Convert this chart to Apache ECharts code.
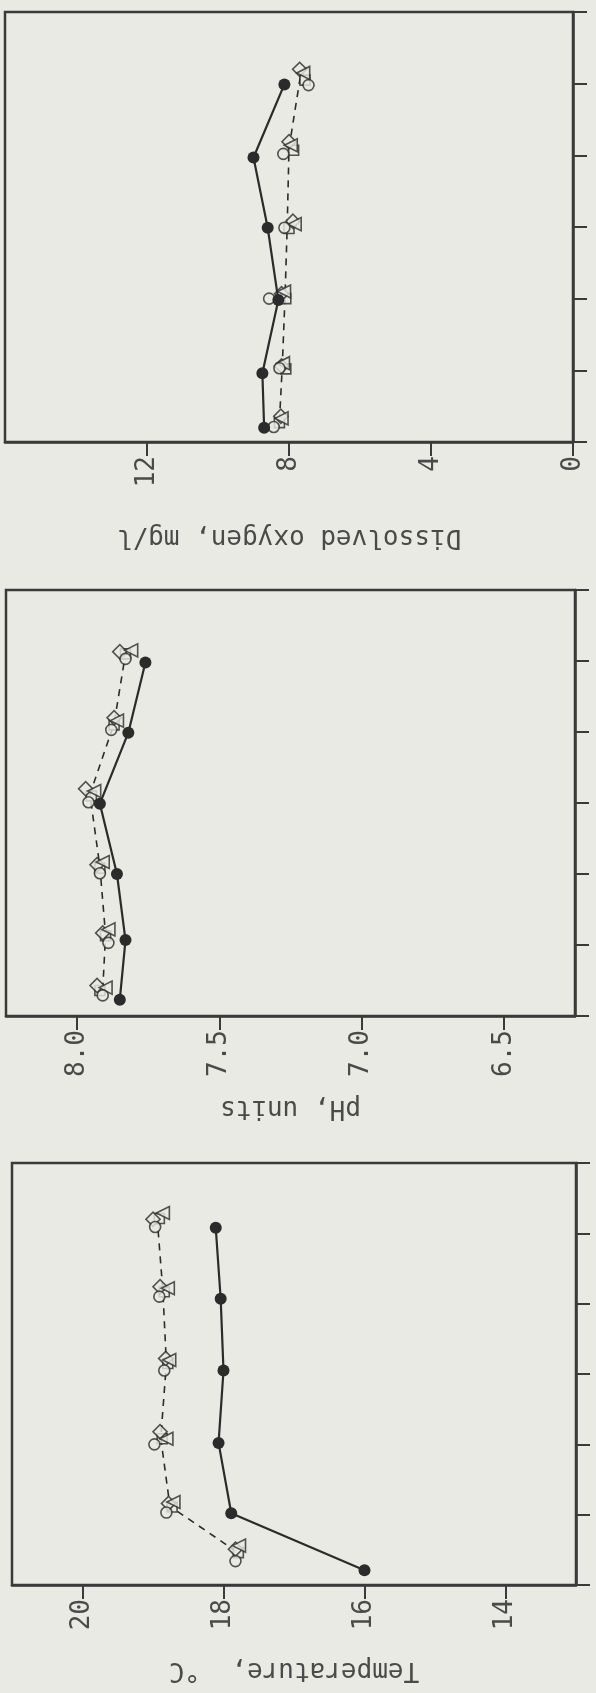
<!DOCTYPE html>
<html>
<head>
<meta charset="utf-8">
<script src="https://cdn.jsdelivr.net/npm/echarts@6/dist/echarts.min.js"></script>
<style>
  html, body { margin: 0; padding: 0; background: #e9eae3; }
  #chart { width: 596px; height: 1693px; }
</style>
</head>
<body>
<div id="chart"></div>
<script>
// ---------- Dissolved oxygen panel (top) ----------
const doTicks = [0, 4, 8, 12];
const doSolidCat = [0.2, 0.96, 1.98, 2.99, 3.97, 4.99];
const doSolidVal = [8.7, 8.75, 8.3, 8.6, 9.0, 8.13];
const doDashCat = [0.29, 1.05, 2.05, 3.02, 4.1, 5.1];
const doDashVal = [8.27, 8.19, 8.11, 8.05, 8.0, 7.68];
const doCircleCat = [0.21, 1.03, 2.0, 2.99, 4.02, 4.98];
const doCircleVal = [8.43, 8.27, 8.56, 8.13, 8.16, 7.45];
const doTriCat = [0.33, 1.1, 2.1, 3.04, 4.14, 5.15];
const doTriVal = [8.21, 8.17, 8.14, 7.84, 7.95, 7.6];
const doDiaCat = [0.36, 1.06, 2.07, 3.08, 4.19, 5.2];
const doDiaVal = [8.23, 8.21, 8.21, 7.89, 8.0, 7.7];
const doSqCat = [0.27, 1.02, 2.0, 2.98, 4.07, 5.05];
const doSqVal = [8.27, 8.09, 8.09, 8.0, 7.87, 7.55];

// ---------- pH panel (middle) ----------
const phTicks = [6.5, 7.0, 7.5, 8.0];
const phSolidCat = [0.23, 1.07, 2.0, 2.99, 3.99, 4.98];
const phSolidVal = [7.85, 7.83, 7.86, 7.92, 7.82, 7.76];
const phDashCat = [0.37, 1.14, 2.1, 3.12, 4.12, 5.1];
const phDashVal = [7.91, 7.9, 7.92, 7.955, 7.87, 7.83];
const phCircleCat = [0.29, 1.03, 2.01, 3.01, 4.03, 5.03];
const phCircleVal = [7.91, 7.89, 7.92, 7.96, 7.88, 7.83];
const phTriCat = [0.40, 1.22, 2.17, 3.17, 4.16, 5.15];
const phTriVal = [7.90, 7.89, 7.91, 7.94, 7.86, 7.81];
const phDiaCat = [0.43, 1.17, 2.13, 3.2, 4.2, 5.13];
const phDiaVal = [7.93, 7.91, 7.93, 7.97, 7.87, 7.85];
const phSqCat = [0.36, 1.13, 2.08, 3.1, 4.1, 5.1];
const phSqVal = [7.92, 7.90, 7.92, 7.95, 7.87, 7.83];

// ---------- Temperature panel (bottom) ----------
const tTicks = [14, 16, 18, 20];
const tSolidCat = [0.21, 1.02, 2.02, 3.05, 4.07, 5.08];
const tSolidVal = [16.0, 17.89, 18.07, 18.0, 18.04, 18.11];
const tDashCat = [0.47, 1.12, 2.09, 3.15, 4.18, 5.2];
const tDashVal = [17.81, 18.76, 18.89, 18.81, 18.86, 18.94];
const tCircleCat = [0.34, 1.03, 2.0, 3.05, 4.1, 5.09];
const tCircleVal = [17.83, 18.81, 18.98, 18.84, 18.91, 18.97];
const tTriCat = [0.56, 1.18, 2.08, 3.2, 4.22, 5.29];
const tTriVal = [17.78, 18.71, 18.81, 18.77, 18.79, 18.86];
const tDiaCat = [0.51, 1.16, 2.18, 3.22, 4.24, 5.2];
const tDiaVal = [17.83, 18.78, 18.9, 18.82, 18.9, 19.0];
const tSqCat = [0.46, 1.11, 2.08, 3.15, 4.17, 5.21];
const tSqVal = [17.79, 18.73, 18.87, 18.79, 18.84, 18.91];

const catTicks = [0, 1, 2, 3, 4, 5, 6];

const BG = '#e9eae3';
const AX = '#3a3a3a';
const TX = '#4a4a4a';
const INK = '#2b2b2b';
const FONT = '"DejaVu Sans Mono", monospace';

function pts(cats, vals) { return vals.map((v, i) => [v, cats[i]]); }

function makeX(gi, min, max, ticks, fmt, name, gap) {
  return {
    type: 'value', gridIndex: gi, min: min, max: max, inverse: true, position: 'bottom',
    axisLine: { show: true, onZero: false, lineStyle: { color: AX, width: 2.5 } },
    axisTick: { show: true, inside: false, length: 14, lineStyle: { color: AX, width: 2 }, customValues: ticks },
    axisLabel: { show: true, rotate: 90, margin: 14, fontFamily: FONT, fontSize: 26, color: TX,
                 formatter: fmt, customValues: ticks },
    splitLine: { show: false },
    name: name, nameLocation: 'middle', nameGap: gap, nameRotate: 180,
    nameTextStyle: { fontFamily: FONT, fontSize: 26, color: TX }
  };
}
function makeY(gi) {
  return {
    type: 'value', gridIndex: gi, min: 0, max: 6, position: 'right',
    axisLine: { show: true, onZero: false, lineStyle: { color: AX, width: 2.5 } },
    axisTick: { show: true, inside: false, length: 14, lineStyle: { color: AX, width: 2 }, customValues: catTicks },
    axisLabel: { show: false },
    splitLine: { show: false }
  };
}

function panelSeries(gi, d) {
  const open = { color: BG, borderColor: INK, borderWidth: 1.6 };
  return [
    { type: 'line', xAxisIndex: gi, yAxisIndex: gi, data: pts(d.dc, d.dv), showSymbol: false,
      lineStyle: { color: INK, width: 1.6, type: [7, 6] }, z: 2 },
    { type: 'scatter', xAxisIndex: gi, yAxisIndex: gi, data: pts(d.sqc, d.sqv), symbol: 'rect', symbolSize: 10, itemStyle: open, z: 3 },
    { type: 'scatter', xAxisIndex: gi, yAxisIndex: gi, data: pts(d.dic, d.div), symbol: 'rect', symbolRotate: 45, symbolSize: 10, itemStyle: open, z: 3 },
    { type: 'scatter', xAxisIndex: gi, yAxisIndex: gi, data: pts(d.trc, d.trv), symbol: 'triangle', symbolRotate: 90, symbolSize: 13, itemStyle: open, z: 3 },
    { type: 'scatter', xAxisIndex: gi, yAxisIndex: gi, data: pts(d.cic, d.civ), symbol: 'circle', symbolSize: 11, itemStyle: open, z: 3 },
    { type: 'line', xAxisIndex: gi, yAxisIndex: gi, data: pts(d.sc, d.sv), symbol: 'circle', symbolSize: 12,
      showAllSymbol: true, lineStyle: { color: INK, width: 2.2 }, itemStyle: { color: INK }, z: 4 }
  ];
}

const chart = echarts.init(document.getElementById('chart'), null, { renderer: 'canvas' });
const option = {
  backgroundColor: BG,
  animation: false,
  grid: [
    { left: 5, top: 12, width: 568, height: 430, show: true, borderColor: AX, borderWidth: 2.5, backgroundColor: 'transparent' },
    { left: 6, top: 590, width: 569, height: 426, show: true, borderColor: AX, borderWidth: 2.5, backgroundColor: 'transparent' },
    { left: 12, top: 1163, width: 564, height: 422, show: true, borderColor: AX, borderWidth: 2.5, backgroundColor: 'transparent' }
  ],
  xAxis: [
    makeX(0, 0, 16, doTicks, v => String(v), 'Dissolved oxygen, mg/l', 82),
    makeX(1, 6.25, 8.25, phTicks, v => Number(v).toFixed(1), 'pH, units', 79),
    makeX(2, 13, 21, tTicks, v => String(v), 'Temperature,  °C', 72)
  ],
  yAxis: [makeY(0), makeY(1), makeY(2)],
  series: [].concat(
    panelSeries(0, { dc: doDashCat, dv: doDashVal, sqc: doSqCat, sqv: doSqVal, dic: doDiaCat, div: doDiaVal,
                     trc: doTriCat, trv: doTriVal, cic: doCircleCat, civ: doCircleVal, sc: doSolidCat, sv: doSolidVal }),
    panelSeries(1, { dc: phDashCat, dv: phDashVal, sqc: phSqCat, sqv: phSqVal, dic: phDiaCat, div: phDiaVal,
                     trc: phTriCat, trv: phTriVal, cic: phCircleCat, civ: phCircleVal, sc: phSolidCat, sv: phSolidVal }),
    panelSeries(2, { dc: tDashCat, dv: tDashVal, sqc: tSqCat, sqv: tSqVal, dic: tDiaCat, div: tDiaVal,
                     trc: tTriCat, trv: tTriVal, cic: tCircleCat, civ: tCircleVal, sc: tSolidCat, sv: tSolidVal })
  )
};
chart.setOption(option);
</script>
</body>
</html>
